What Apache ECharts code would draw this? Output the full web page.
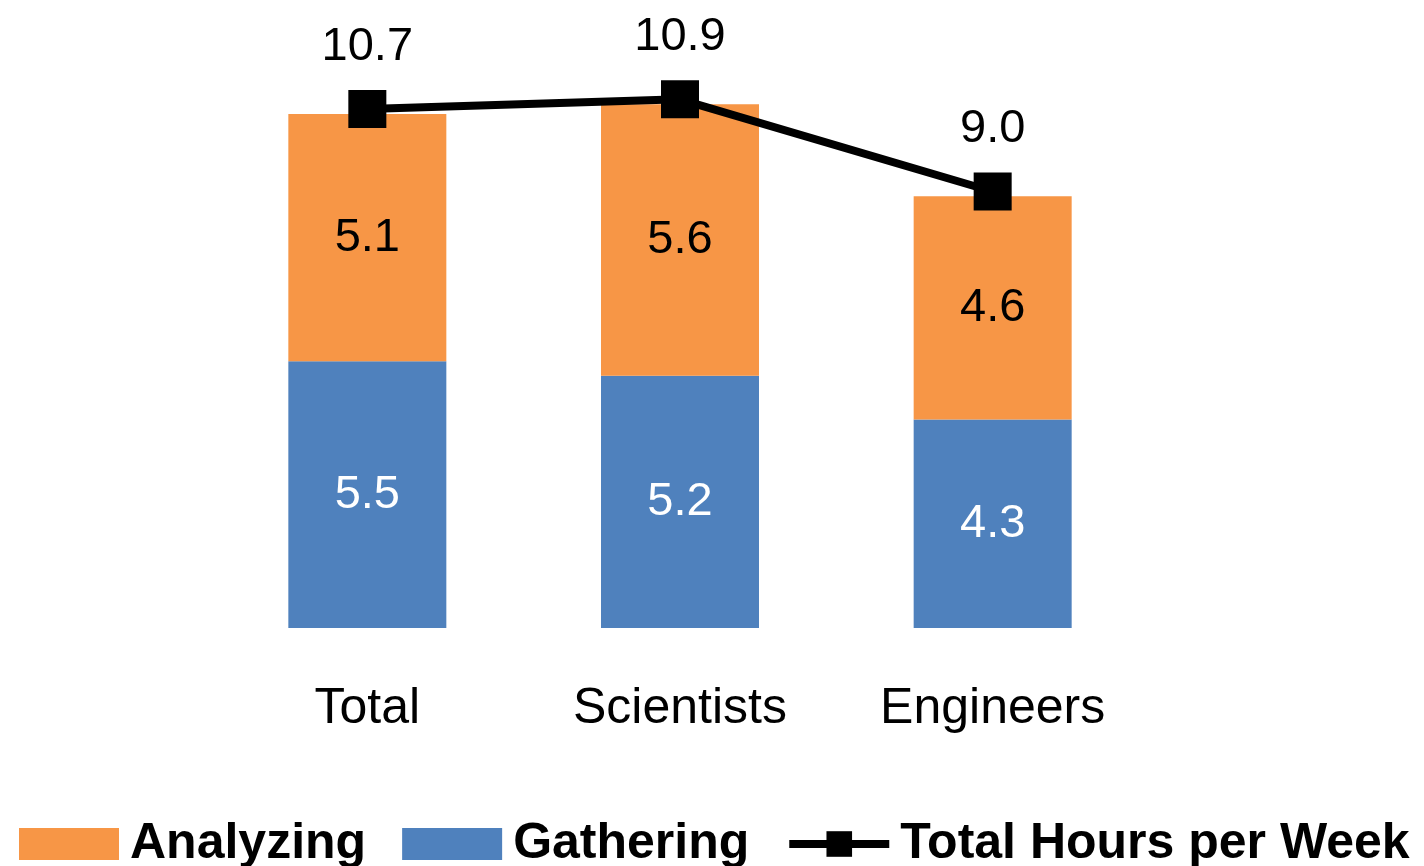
<!DOCTYPE html>
<html>
<head>
<meta charset="utf-8">
<title>Hours per Week</title>
<script src="https://cdn.jsdelivr.net/npm/echarts@6/dist/echarts.min.js"></script>
<style>
  html, body { margin: 0; padding: 0; background: #fff; }
  #chart { width: 1424px; height: 866px; }
</style>
</head>
<body>
<div id="chart"></div>
<script>
const categories = ['Total', 'Scientists', 'Engineers']
const gathering = [5.5, 5.2, 4.3]
const analyzing = [5.1, 5.6, 4.6]
const totalHours = [10.7, 10.9, 9.0]

const font = '"Liberation Sans", Arial, sans-serif'

const chart = echarts.init(document.getElementById('chart'))

chart.setOption({
  animation: false,
  textStyle: { fontFamily: font },
  grid: { left: 211, right: 275, top: 46, bottom: 238 },
  legend: {
    bottom: -8,
    left: 14,
    itemWidth: 100,
    itemHeight: 32,
    itemGap: 36,
    data: [
      { name: 'Analyzing', icon: 'rect' },
      { name: 'Gathering', icon: 'rect' },
      { name: 'Total Hours per Week', lineStyle: { width: 8 } }
    ],
    textStyle: { fontSize: 50, fontWeight: 'bold', color: '#000', fontFamily: font, padding: [0, 0, 0, 6] }
  },
  xAxis: {
    type: 'category',
    data: categories,
    axisLine: { show: false },
    axisTick: { show: false },
    axisLabel: { color: '#000', fontSize: 50, margin: 56, fontFamily: font }
  },
  yAxis: {
    type: 'value',
    min: 0,
    max: 12,
    show: false,
    splitLine: { show: false }
  },
  series: [
    {
      name: 'Gathering',
      type: 'bar',
      stack: 'hours',
      data: gathering,
      barWidth: 158,
      itemStyle: { color: '#4F81BD' },
      label: { show: true, position: 'inside', color: '#fff', fontSize: 47, fontFamily: font, formatter: p => p.value.toFixed(1) }
    },
    {
      name: 'Analyzing',
      type: 'bar',
      stack: 'hours',
      data: analyzing,
      barWidth: 158,
      itemStyle: { color: '#F79646' },
      label: { show: true, position: 'inside', color: '#000', fontSize: 47, fontFamily: font, formatter: p => p.value.toFixed(1) }
    },
    {
      name: 'Total Hours per Week',
      type: 'line',
      data: totalHours,
      symbol: 'rect',
      symbolSize: 38,
      itemStyle: { color: '#000' },
      lineStyle: { color: '#000', width: 8 },
      label: { show: true, position: 'top', distance: 20, color: '#000', fontSize: 47, fontFamily: font, formatter: p => p.value.toFixed(1) },
      z: 5
    }
  ]
})

window.addEventListener('resize', () => chart.resize())
</script>
</body>
</html>
